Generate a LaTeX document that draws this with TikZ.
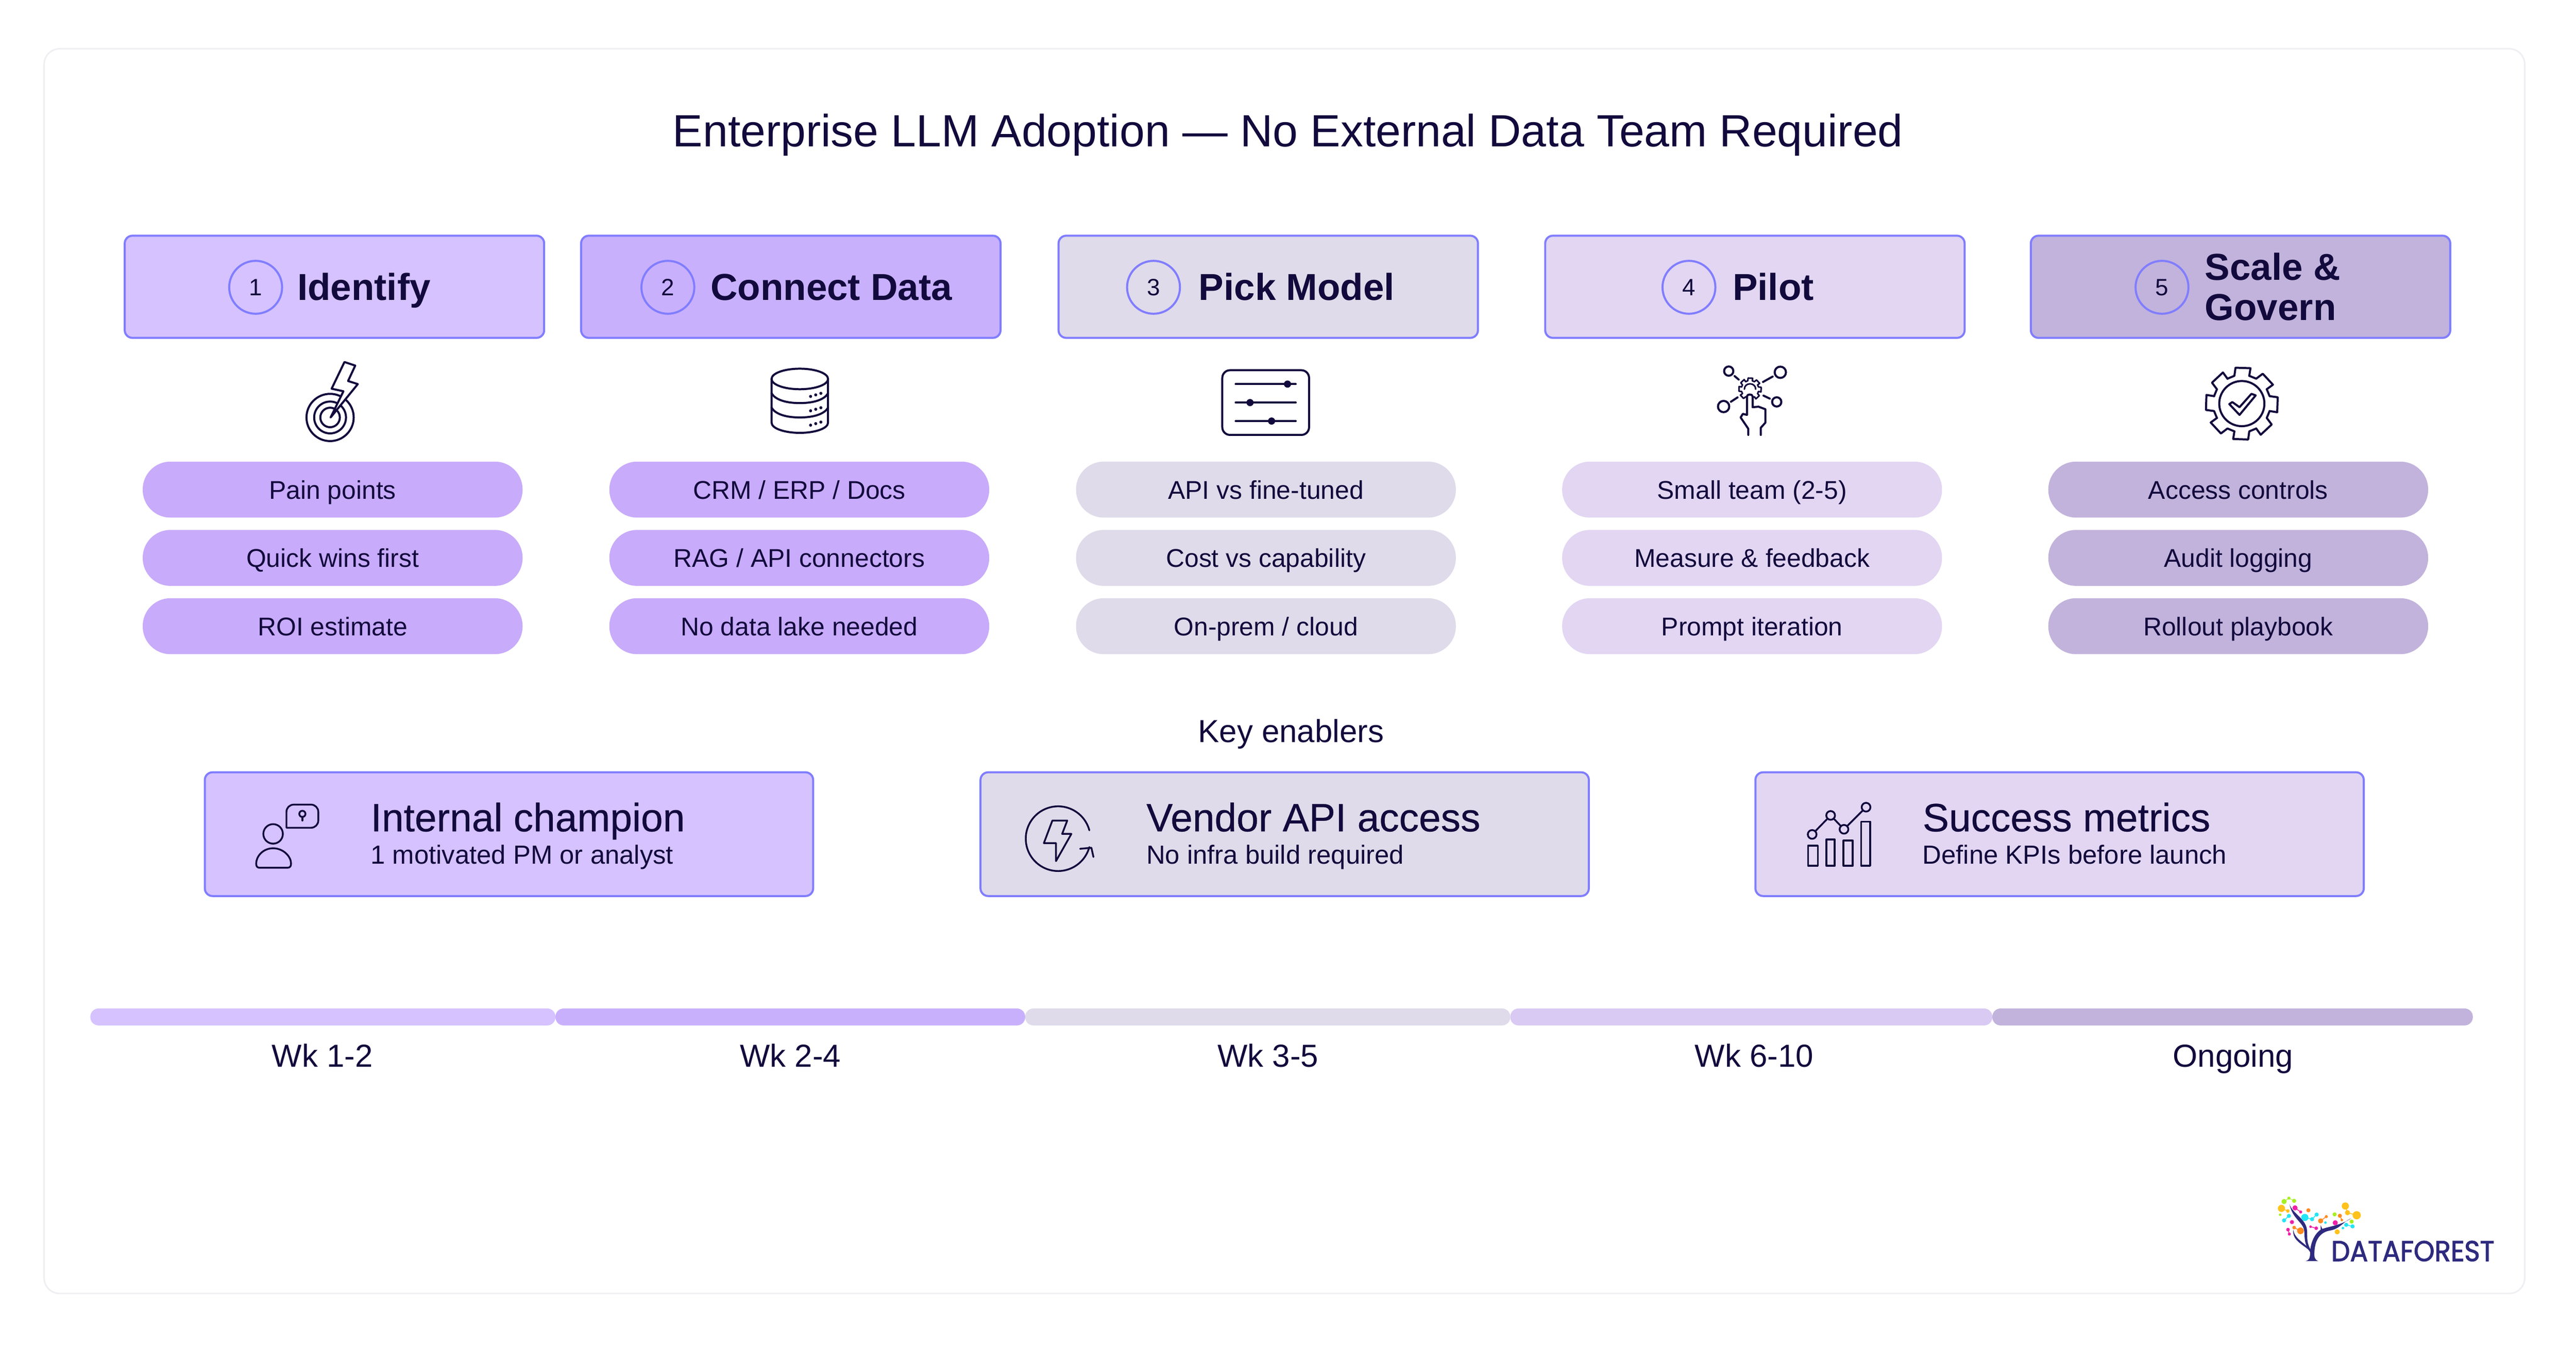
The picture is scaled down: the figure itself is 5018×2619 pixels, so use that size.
\documentclass[tikz,border=0pt]{standalone}
\usepackage{fontspec}
\setmainfont{Liberation Sans}
\newfontfamily\logofont[FakeBold=2]{Poppins}
\newfontfamily\medfont[FakeBold=0.4]{Liberation Sans}
\definecolor{ink}{HTML}{120A3C}
\definecolor{edge}{HTML}{807DFF}
\definecolor{cardedge}{HTML}{EFEFF3}
\definecolor{boxa}{HTML}{D5C2FF}
\definecolor{boxb}{HTML}{C9B0FD}
\definecolor{boxc}{HTML}{DFDBEA}
\definecolor{boxd}{HTML}{E2D6F3}
\definecolor{boxe}{HTML}{C2B3DC}
\definecolor{pilla}{HTML}{C8ABFA}
\definecolor{bard}{HTML}{D9CAF4}
\definecolor{logoblue}{HTML}{2E2A7E}
\definecolor{logolime}{HTML}{A6F01E}
\definecolor{logoyellow}{HTML}{FFC21C}
\definecolor{logopink}{HTML}{F01FA8}
\definecolor{logoorange}{HTML}{FF8A1E}
\definecolor{logocyan}{HTML}{22E5F5}
\tikzset{
headbox/.style={draw=edge,line width=4pt,rounded corners=15pt,minimum width=817pt,minimum height=199pt,inner sep=0pt},
enabbox/.style={draw=edge,line width=4pt,rounded corners=15pt,minimum width=1185pt,minimum height=241pt,inner sep=0pt},
pill/.style={rounded corners=54pt,minimum width=740pt,minimum height=109pt,inner sep=0pt,text=ink,text height=36pt,text depth=0pt,font=\fontsize{50}{50}\selectfont},
stepnum/.style={circle,draw=edge,line width=4pt,minimum size=103pt,inner sep=0pt,text=ink,font=\fontsize{46}{46}\selectfont},
headtxt/.style={anchor=base west,inner sep=0pt,text=ink,font=\fontsize{73}{73}\selectfont\bfseries},
enabtxt/.style={anchor=base west,inner sep=0pt,text=ink,font=\fontsize{77}{77}\medfont},
subtxt/.style={anchor=base west,inner sep=0pt,text=ink,font=\fontsize{51}{51}\selectfont},
weektxt/.style={anchor=base,inner sep=0pt,text=ink,font=\fontsize{62}{62}\selectfont},
iconline/.style={draw=ink,line width=4pt,line join=round,line cap=round},
thinline/.style={draw=ink,line width=3.5pt,line join=round,line cap=round},
hubdot/.style={circle,draw=ink,line width=4pt,inner sep=0pt},
metricdot/.style={circle,draw=ink,line width=3.5pt,inner sep=0pt,minimum size=17pt}
}
\newcommand{\gearring}[3]{
\foreach \a in {0,45,...,315}
\draw[iconline] (#1)++(\a-15:#3pt) -- ++(\a-9:#2pt-#3pt) -- ($(#1)+(\a+10:#2pt)$) -- ($(#1)+(\a+15:#3pt)$) -- ($(#1)+(\a+30:#3pt)$);
}
\usetikzlibrary{calc}
\begin{document}
\begin{tikzpicture}[x=1pt,y=-1pt]
\useasboundingbox (0,0) rectangle (5018,2619);
\fill[white] (0,0) rectangle (5018,2619);
\draw[cardedge,line width=3pt,rounded corners=30pt] (86,95) rectangle (4918,2519);
\node[inner sep=0pt,text=ink,text height=66pt,text depth=0pt,font=\fontsize{88}{88}\selectfont] (title) at (2509,253) {Enterprise LLM Adoption --- No External Data Team Required};
% steps
\node[headbox,fill=boxa] (h1) at (651.5,558.5) {};
\node[headbox,fill=boxb] (h2) at (1540.5,558.5) {};
\node[headbox,fill=boxc] (h3) at (2470.5,558.5) {};
\node[headbox,fill=boxd] (h4) at (3418.5,558.5) {};
\node[headbox,fill=boxe] (h5) at (4364.5,558.5) {};
\node[stepnum] (n1) at (498,559.5) {1};
\node[stepnum] (n2) at (1301,559.5) {2};
\node[stepnum] (n3) at (2247,559.5) {3};
\node[stepnum] (n4) at (3290,559.5) {4};
\node[stepnum] (n5) at (4211.5,559.5) {5};
\node[headtxt] (l1) at (579,585) {Identify};
\node[headtxt] (l2) at (1384,585) {Connect Data};
\node[headtxt] (l3) at (2335,585) {Pick Model};
\node[headtxt] (l4) at (3375,585) {Pilot};
\node[headtxt] (l5a) at (4295,545) {Scale \&};
\node[headtxt] (l5b) at (4295,624) {Govern};
% pills
\node[pill,fill=pilla] (p11) at (648,953.5) {Pain points};
\node[pill,fill=pilla] (p12) at (648,1086.5) {Quick wins first};
\node[pill,fill=pilla] (p13) at (648,1219.5) {ROI estimate};
\node[pill,fill=pilla] (p21) at (1557,953.5) {CRM / ERP / Docs};
\node[pill,fill=pilla] (p22) at (1557,1086.5) {RAG / API connectors};
\node[pill,fill=pilla] (p23) at (1557,1219.5) {No data lake needed};
\node[pill,fill=boxc] (p31) at (2466,953.5) {API vs fine-tuned};
\node[pill,fill=boxc] (p32) at (2466,1086.5) {Cost vs capability};
\node[pill,fill=boxc] (p33) at (2466,1219.5) {On-prem / cloud};
\node[pill,fill=boxd] (p41) at (3413,953.5) {Small team (2-5)};
\node[pill,fill=boxd] (p42) at (3413,1086.5) {Measure \& feedback};
\node[pill,fill=boxd] (p43) at (3413,1219.5) {Prompt iteration};
\node[pill,fill=boxe] (p51) at (4360,953.5) {Access controls};
\node[pill,fill=boxe] (p52) at (4360,1086.5) {Audit logging};
\node[pill,fill=boxe] (p53) at (4360,1219.5) {Rollout playbook};
% step icons
\draw[iconline] (643,813) circle[radius=46];
\draw[iconline] (643,813) circle[radius=31];
\draw[iconline] (643,813) circle[radius=19];
\draw[iconline,fill=white] (671,705) -- (692,712) -- (678,742) -- (697,748) -- (644,813) -- (669,762) -- (646,757) -- cycle;
\draw[iconline] (1503,738) -- (1503,823) .. controls (1503,835) and (1530,843) .. (1558,843) .. controls (1586,843) and (1613,835) .. (1613,823) -- (1613,738);
\draw[iconline] (1558,738) ellipse[x radius=55,y radius=20];
\draw[iconline] (1503,766) .. controls (1510,778) and (1530,785) .. (1558,785) .. controls (1586,785) and (1606,778) .. (1613,766);
\draw[iconline] (1503,794) .. controls (1510,806) and (1530,813) .. (1558,813) .. controls (1586,813) and (1606,806) .. (1613,794);
\foreach \y in {0,28,56} {
\fill[ink] (1579,772+\y) circle[radius=3];
\fill[ink] (1589,769+\y) circle[radius=3];
\fill[ink] (1599,766+\y) circle[radius=3];
}
\draw[iconline,rounded corners=15pt] (2381,721) rectangle (2550,847);
\draw[iconline] (2407,748) -- (2524,748);
\draw[iconline] (2407,784) -- (2524,784);
\draw[iconline] (2407,820) -- (2524,820);
\fill[ink] (2508,748) circle[radius=7];
\fill[ink] (2435,784) circle[radius=7];
\fill[ink] (2477,820) circle[radius=7];
\coordinate (g4) at (3409,758);
\begin{scope}[iconline/.append style={line width=3pt}]
\gearring{g4}{22}{17}
\draw[iconline] (g4) ++(-11,0) .. controls (3398,744) and (3420,744) .. (3420,758);
\end{scope}
\node[hubdot,minimum size=18pt] (d1) at (3367.5,722.7) {};
\node[hubdot,minimum size=22pt] (d2) at (3468,725) {};
\node[hubdot,minimum size=22pt] (d3) at (3357.5,791.7) {};
\node[hubdot,minimum size=18pt] (d4) at (3461,782.7) {};
\draw[iconline,shorten <=4pt,shorten >=29pt] (d1) -- (g4);
\draw[iconline,shorten <=4pt,shorten >=29pt] (d2) -- (g4);
\draw[iconline,shorten <=4pt,shorten >=29pt] (d3) -- (g4);
\draw[iconline,shorten <=4pt,shorten >=29pt] (d4) -- (g4);
\draw[iconline,fill=white] (3405.6,847) -- (3405.6,835) -- (3390.7,813) -- (3395,806) -- (3403,808) -- (3403,772) .. controls (3403,767) and (3414,767) .. (3414,772) -- (3414,793) -- (3425.5,792) -- (3439,797) -- (3439,823) -- (3430,833) -- (3430,847);
\coordinate (g5) at (4367,786);
\gearring{g5}{71}{56}
\draw[iconline] (g5) circle[radius=44];
\draw[iconline] (4342.6,787) -- (4348.4,783) -- (4362.5,793) -- (4385.7,767) -- (4394,770) -- (4362.5,808) -- cycle;
% enablers
\node[inner sep=0pt,text=ink,text height=44pt,text depth=0pt,font=\fontsize{62}{62}\selectfont] (keyen) at (2515,1424) {Key enablers};
\node[enabbox,fill=boxa] (e1) at (991.5,1624.5) {};
\node[enabbox,fill=boxc] (e2) at (2502.5,1624.5) {};
\node[enabbox,fill=boxd] (e3) at (4012,1624.5) {};
\node[enabtxt] (t1) at (722,1619) {Internal champion};
\node[enabtxt] (t2) at (2233,1619) {Vendor API access};
\node[enabtxt] (t3) at (3745,1619) {Success metrics};
\node[subtxt] (s1) at (722,1683) {1 motivated PM or analyst};
\node[subtxt] (s2) at (2233,1683) {No infra build required};
\node[subtxt] (s3) at (3745,1683) {Define KPIs before launch};
\draw[thinline] (558,1612) [rounded corners=14pt] -- (558,1567) -- (620,1567) -- (620,1612) [sharp corners] -- (558,1612) -- cycle;
\draw[thinline] (589,1585) circle[radius=6];
\draw[thinline] (589,1591) -- (589,1598);
\draw[thinline] (532,1624) circle[radius=19];
\draw[thinline] (532,1652) .. controls (512,1652) and (499,1668) .. (499,1682) .. controls (499,1688) and (502,1690) .. (506,1690) -- (559,1690) .. controls (564,1690) and (567,1688) .. (567,1682) .. controls (567,1668) and (552,1652) .. (532,1652) -- cycle;
\draw[thinline] (2122,1617) arc[start angle=15,end angle=345,radius=63pt];
\draw[thinline] (2104,1653) -- (2126,1651) -- (2130,1669);
\draw[thinline] (2050,1598) -- (2079,1598) -- (2069,1624) -- (2087,1624) -- (2057,1677) -- (2057,1642) -- (2033.4,1642) -- cycle;
\draw[thinline] (3522,1647) rectangle (3541,1686);
\draw[thinline] (3557.5,1635) rectangle (3574,1686);
\draw[thinline] (3591,1637) rectangle (3609,1686);
\draw[thinline] (3625.5,1600) rectangle (3643,1686);
\node[metricdot] (m1) at (3530,1625) {};
\node[metricdot] (m2) at (3566,1588) {};
\node[metricdot] (m3) at (3592,1615) {};
\node[metricdot] (m4) at (3635,1572) {};
\draw[thinline] (m1) -- (m2);
\draw[thinline] (m2) -- (m3);
\draw[thinline] (m3) -- (m4);
% timeline
\fill[boxa,rounded corners=16pt] (176,1964) rectangle (1082,1997);
\fill[boxb,rounded corners=16pt] (1082,1964) rectangle (1997,1997);
\fill[boxc,rounded corners=16pt] (1997,1964) rectangle (2942,1997);
\fill[bard,rounded corners=16pt] (2942,1964) rectangle (3881,1997);
\fill[boxe,rounded corners=16pt] (3881,1964) rectangle (4817,1997);
\node[weektxt] (w1) at (628,2078) {Wk 1-2};
\node[weektxt] (w2) at (1540,2078) {Wk 2-4};
\node[weektxt] (w3) at (2470,2078) {Wk 3-5};
\node[weektxt] (w4) at (3417,2078) {Wk 6-10};
\node[weektxt] (w5) at (4350,2078) {Ongoing};
% logo
\node[anchor=base west,inner sep=0pt,text=logoblue,xscale=0.925,font=\fontsize{56}{56}\logofont] (logotxt) at (4541,2456) {DATAFOREST};
\begin{scope}[shift={(4350,2280)},x=0.4261pt,y=-0.3333pt]
\fill[logoblue] (330,528) .. controls (345,525) and (352,515) .. (352,480) .. controls (352,430) and (370,370) .. (400,345) -- (400,318) -- (408,340) .. controls (440,325) and (490,320) .. (540,278) .. controls (500,300) and (490,340) .. (440,350) .. controls (400,360) and (375,400) .. (372,470) .. controls (370,505) and (372,520) .. (390,528) -- cycle;
\fill[logoblue] (258,195) .. controls (270,250) and (335,280) .. (338,350) .. controls (340,400) and (335,420) .. (358,470) -- (352,475) .. controls (325,430) and (328,400) .. (325,350) .. controls (320,300) and (270,280) .. (258,195) -- cycle;
\fill[logoblue] (275,345) .. controls (280,390) and (310,410) .. (355,460) -- (352,470) .. controls (320,430) and (270,410) .. (275,345) -- cycle;
\draw[logoyellow,line width=1.5pt] (221,220) -- (250,235) (513,206) -- (523,245) -- (565,260);
\draw[logopink,line width=1.5pt] (283,217) -- (309,241) (354,327) -- (380,336) (251,344) -- (257,370);
\draw[logocyan,line width=1.5pt] (255,264) -- (233,290) (328,273) -- (361,283) -- (382,256) (517,316) -- (546,325);
\draw[logoorange,line width=1.5pt] (400,293) -- (426,268) (488,263) -- (497,288) (279,332) -- (308,351);
\draw[logolime,line width=1pt] (233,180) -- (255,160) -- (279,176);
\foreach \x/\y/\r in {233/180/5,255/160/3,279/176/4,542/297/4,464/255/4,215/257/2.5}
\fill[logolime] (\x,\y) circle[radius=\r pt];
\foreach \x/\y/\r in {221/220/7,250/235/3.5,513/206/7,523/245/5,565/260/8,476/357/5}
\fill[logoyellow] (\x,\y) circle[radius=\r pt];
\foreach \x/\y/\r in {283/217/5,309/241/3,269/300/4,467/304/5,354/327/2.5,380/336/3.5,251/344/3.5,257/370/3}
\fill[logopink] (\x,\y) circle[radius=\r pt];
\foreach \x/\y/\r in {344/231/4,488/263/4,497/288/2.5,400/293/5,426/268/3,279/332/3.5,308/351/6.5}
\fill[logoorange] (\x,\y) circle[radius=\r pt];
\foreach \x/\y/\r in {255/264/4,233/290/4,328/273/7,361/283/4,382/256/4,422/303/2.5,517/316/4,546/325/4,502/335/2.5}
\fill[logocyan] (\x,\y) circle[radius=\r pt];
\end{scope}
\end{tikzpicture}
\end{document}
